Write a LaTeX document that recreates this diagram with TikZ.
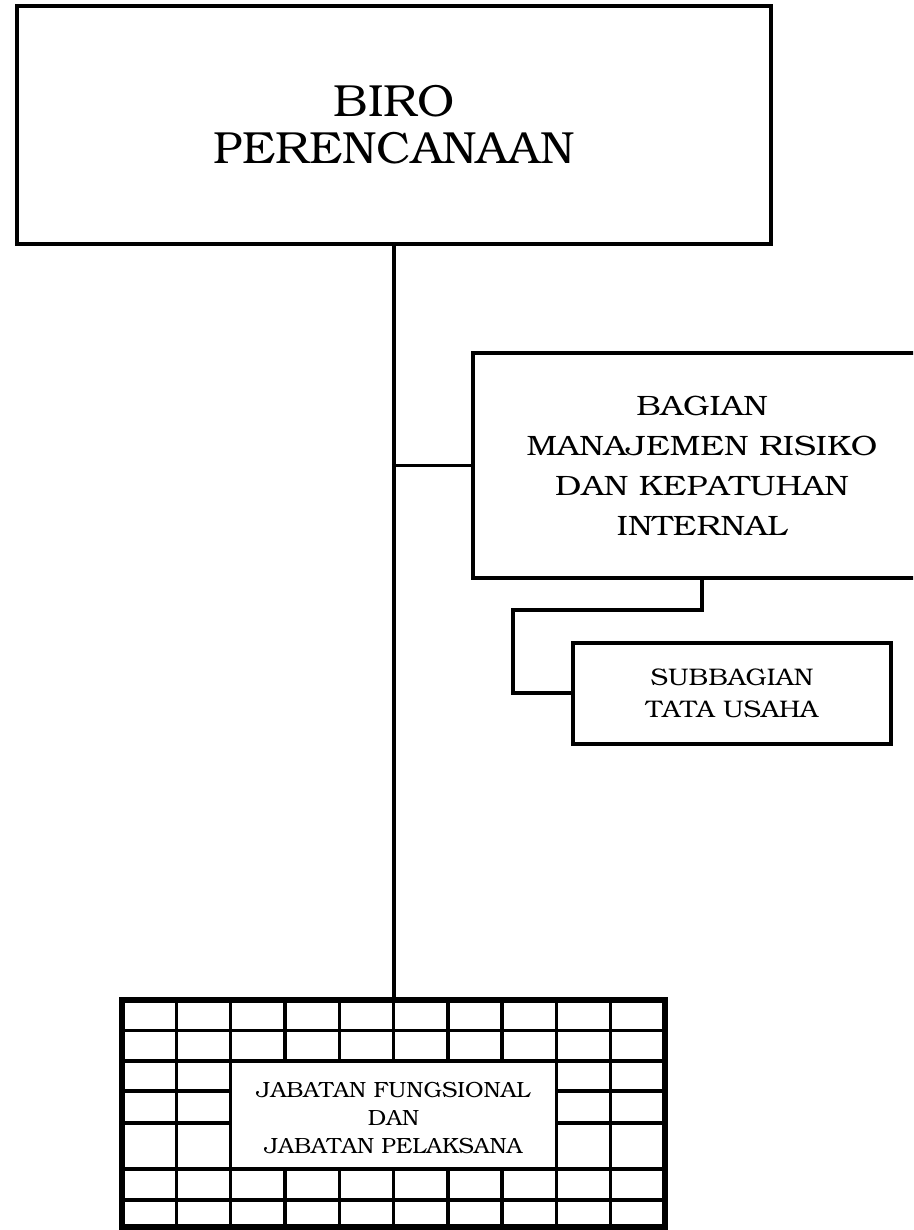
\documentclass[tikz,border=0pt]{standalone}
\usepackage[T1]{fontenc}
\usepackage{bookman}
\usepackage{graphicx}
% widen a line of text horizontally
\newcommand{\wideline}[2]{\scalebox{#1}[1]{#2}}
\begin{document}
\begin{tikzpicture}[x=1pt,y=-1pt,
  unitbox/.style={draw,line width=4pt,rectangle,align=center,inner sep=0pt,fill=white},
  link/.style={line width=3.3pt},
  gridline/.style={line width=3.4pt},
  gridframe/.style={line width=6pt}]
\useasboundingbox (0,0) rectangle (913,1230);
\clip (0,0) rectangle (913,1230);

% organisational units
\node[unitbox,minimum width=754pt,minimum height=238pt,
      font=\fontsize{45}{47}\selectfont] (biro) at (394,125)
      {\wideline{1.03}{BIRO}\\\wideline{1.03}{PERENCANAAN}};
\node[unitbox,minimum width=458pt,minimum height=225pt,
      font=\fontsize{28}{40}\selectfont] (bagian) at (702,465.5)
      {\wideline{1.18}{BAGIAN}\\\wideline{1.18}{MANAJEMEN RISIKO}\\
       \wideline{1.18}{DAN KEPATUHAN}\\\wideline{1.18}{INTERNAL}};
\node[unitbox,minimum width=318pt,minimum height=101pt,
      font=\fontsize{24}{32}\selectfont] (subbag) at (732,693)
      {\wideline{1.1}{SUBBAGIAN}\\\wideline{1.1}{TATA USAHA}};

% functional positions: framed grid around a central label
\node[draw,gridframe,minimum width=543pt,minimum height=227pt,inner sep=0pt] (grid) at (393.5,1113.5) {};
\foreach \y in {1030.5,1061,1169,1200}
  \draw[gridline] (122,\y) -- (665,\y);
\foreach \y in {1091,1123} {
  \draw[gridline] (122,\y) -- (230.6,\y);
  \draw[gridline] (556.4,\y) -- (665,\y);
}
\foreach \x in {176.3,230.6,556.4,610.7}
  \draw[gridline] (\x,1000) -- (\x,1227);
\foreach \x in {284.9,339.2,393.5,447.8,502.1} {
  \draw[gridline] (\x,1000) -- (\x,1061);
  \draw[gridline] (\x,1169) -- (\x,1227);
}
\node[align=center,inner sep=0pt,font=\fontsize{22}{28}\selectfont] (jf) at (393.5,1118)
  {\wideline{1.05}{JABATAN FUNGSIONAL}\\\wideline{1.05}{DAN}\\\wideline{1.05}{JABATAN PELAKSANA}};

% connectors
\coordinate (elbow) at (513,610);
\draw[link] (biro.south) -- (biro.south |- grid.north);
\draw[link] (biro.south |- bagian.west) -- (bagian.west);
\draw[link] (bagian.south) |- (elbow) |- (subbag.west);
\end{tikzpicture}
\end{document}
